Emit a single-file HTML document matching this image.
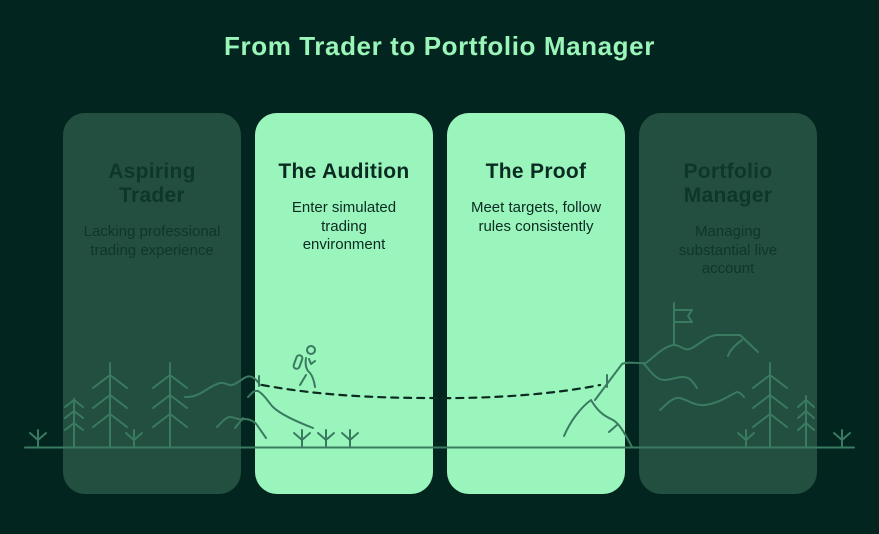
<!DOCTYPE html>
<html><head><meta charset="utf-8"><style>
html,body{margin:0;padding:0;background:#03251f;}
body{width:879px;height:534px;overflow:hidden;position:relative;font-family:"Liberation Sans",sans-serif;}
.t{position:absolute;left:0;width:879px;top:31px;text-align:center;color:#9af5b9;font-weight:bold;font-size:26px;letter-spacing:0.6px;}
.c{position:absolute;top:113px;width:178px;height:381px;border-radius:22px;text-align:center;}
.d{background:#234f40;color:#0f3729;}
.l{background:#9af5bd;color:#0b2a21;}
.c h3{margin:0;padding-top:47px;font-size:21px;line-height:24px;font-weight:bold;letter-spacing:0.3px;}
.c p{margin:15px 6px 0;font-size:15px;line-height:18.5px;}
svg{position:absolute;left:0;top:0;}
</style></head><body>
<div class="t">From Trader to Portfolio Manager</div>
<div class="c d" style="left:63px"><h3>Aspiring<br>Trader</h3><p>Lacking professional<br>trading experience</p></div>
<div class="c l" style="left:255px"><h3>The Audition</h3><p>Enter simulated<br>trading<br>environment</p></div>
<div class="c l" style="left:447px"><h3>The Proof</h3><p>Meet targets, follow<br>rules consistently</p></div>
<div class="c d" style="left:639px"><h3>Portfolio<br>Manager</h3><p>Managing<br>substantial live<br>account</p></div>
<svg width="879" height="534" fill="none" stroke="#3a7a60" stroke-width="2" stroke-linecap="round" stroke-linejoin="round">
<line x1="25" y1="447.5" x2="854" y2="447.5"/>
<path d="M74 399V447M65 407L74 400L83 407M65 418L74 411L83 418M65 430L74 423L83 430"/>
<path d="M110 363V447M93 388L110 375L127 388M93 408L110 395L127 408M93 427L110 414L127 427"/>
<path d="M170 363V447M153 388L170 375L187 388M153 408L170 395L187 408M153 427L170 414L187 427"/>
<path d="M770 363V447M753 388L770 375L787 388M753 408L770 395L787 408M753 427L770 414L787 427"/>
<path d="M806 396V447M798 407L806 400L814 407M798 418L806 411L814 418M798 430L806 423L814 430"/>
<g>
<path d="M38 430V446M30 433L38 440L46 433"/>
<path d="M134 430V446M126 433L134 440L142 433"/>
<path d="M302 430V446M294 433L302 440L310 433"/>
<path d="M326 430V446M318 433L326 440L334 433"/>
<path d="M350 430V446M342 433L350 440L358 433"/>
<path d="M746 430V446M738 433L746 440L754 433"/>
<path d="M842 430V446M834 433L842 440L850 433"/>
</g>
<path d="M185 397C200 398 208 386 220 383C226 382 228 386 232 385C240 383 245 374 252 377C256 379 258 382 260 385"/>
<path d="M248 397C252 393 254 390 258 391C265 395 268 402 273 407C280 414 295 421 313 428"/>
<path d="M217 427C222 422 226 417 230 417C235 417 240 421 245 419C250 419 255 422 257 425L266 438M235 428L243 418"/>
<path d="M259 376V386"/>
<path d="M564 436C570 422 580 408 591 400C597 410 602 415 613 420C618 423 622 428 632 447M609 432L617 425"/>
<path d="M595 400L622 364C628 361 640 364 646 363C655 356 665 345 675 345C682 346 685 352 692 348C700 344 708 335 718 335L740 335L758 352M742 340C735 345 730 350 728 356"/>
<path d="M644 364C650 370 655 380 665 380C672 380 680 375 688 378C692 380 695 385 697 388"/>
<path d="M660 410C666 405 672 397 680 398C690 401 695 406 705 405C720 403 730 395 737 392C740 392 742 395 744 397"/>
<path d="M674 345V303M674 310H692L688 316L692 322H674"/>
<path d="M607 375V387"/>
<path d="M262 385C300 392 350 398 430 398C500 399 560 393 600 385" stroke="#0d2a20" stroke-dasharray="7 6" stroke-width="2.2"/>
<g stroke="#3a7a60">
<circle cx="311" cy="350" r="4"/>
<rect x="295" y="355" width="6" height="14" rx="3" transform="rotate(20 298 362)"/>
<path d="M306 358C305 364 306 368 308 371C312 374 314 380 315 387M306 375L300 385M309 359L311 364L315 361"/>
</g>
</svg>
</body></html>
